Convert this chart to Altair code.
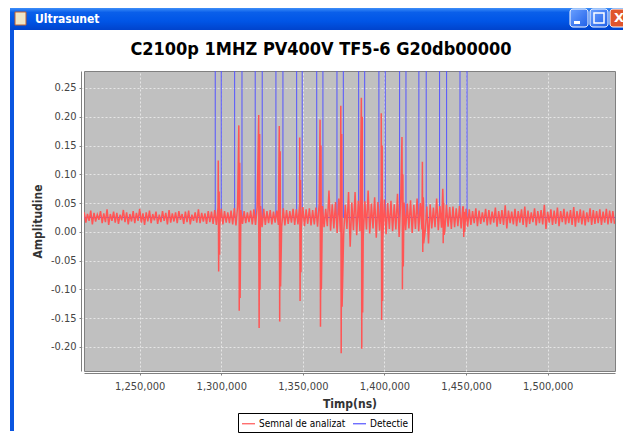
import altair as alt
import pandas as pd

# ---------------- data ----------------
T0 = 1216000          # first sample time (ns)
DT = 2000             # one upper + one lower envelope sample per DT

sig_hi = [
    0.034, 0.031, 0.037, 0.033, 0.030, 0.036, 0.032, 0.039, 0.031, 0.035,
    0.033, 0.030, 0.038, 0.034, 0.031, 0.036, 0.033, 0.040, 0.032, 0.034,
    0.037, 0.031, 0.035, 0.030, 0.036, 0.033, 0.038, 0.032, 0.034, 0.036,
    0.031, 0.035, 0.037, 0.030, 0.034, 0.039, 0.033, 0.032, 0.036,
    0.035, 0.038, 0.042, 0.040, 0.036, 0.034, 0.037, 0.041, 0.044, 0.038,
    0.036, 0.034, 0.037, 0.039, 0.043, 0.045, 0.040, 0.036, 0.038, 0.035,
    0.037, 0.044, 0.041, 0.038, 0.036, 0.040, 0.039, 0.046, 0.043, 0.039,
    0.041, 0.038, 0.042, 0.048, 0.045, 0.040,
    0.072, 0.048, 0.052, 0.058, 0.055, 0.047, 0.069, 0.051, 0.069, 0.054,
    0.060, 0.053, 0.072, 0.049, 0.060, 0.052, 0.063, 0.056, 0.050, 0.054,
    0.048, 0.066, 0.058, 0.051, 0.049, 0.055, 0.047, 0.058,
    0.050, 0.046, 0.044, 0.048, 0.042, 0.058, 0.045, 0.050, 0.047, 0.043,
    0.044, 0.041, 0.045, 0.043, 0.040,
    0.039, 0.036, 0.041, 0.037, 0.034, 0.040, 0.038, 0.035, 0.042, 0.036,
    0.038, 0.046, 0.037, 0.035, 0.040, 0.036, 0.039, 0.044, 0.037, 0.034,
    0.041, 0.036, 0.038, 0.047, 0.035, 0.039, 0.037, 0.042, 0.036, 0.040,
    0.035, 0.038, 0.043, 0.036, 0.039, 0.037, 0.034, 0.041, 0.038, 0.036,
    0.039, 0.035, 0.040, 0.037, 0.036,
]
sig_lo = [
    0.016, 0.019, 0.013, 0.018, 0.021, 0.015, 0.017, 0.012, 0.019, 0.016,
    0.014, 0.020, 0.017, 0.013, 0.018, 0.015, 0.019, 0.016, 0.012, 0.018,
    0.015, 0.020, 0.014, 0.017, 0.019, 0.013, 0.016, 0.018, 0.015, 0.021,
    0.014, 0.017, 0.013, 0.019, 0.016, 0.015, 0.018, 0.014, 0.017,
    0.014, 0.012, 0.010, 0.013, 0.016, 0.015, 0.013, 0.011, 0.009, 0.014,
    0.015, 0.017, 0.013, 0.012, 0.009, 0.008, 0.012, 0.015, 0.013, 0.016,
    0.012, 0.008, 0.011, 0.014, 0.016, 0.012, 0.013, 0.007, 0.010, 0.014,
    0.011, 0.013, 0.009, 0.004, 0.008, 0.010,
    0.002, 0.006, -0.002, 0.000, -0.004, 0.005, -0.026, 0.003, -0.006, 0.001,
    -0.008, 0.004, -0.003, 0.006, -0.010, 0.002, -0.012, -0.004, 0.005, 0.001,
    0.004, -0.009, 0.000, 0.003, 0.006, -0.002, 0.005, 0.001,
    0.004, 0.002, -0.020, 0.006, 0.008, 0.003, 0.007, 0.001, 0.009, 0.005,
    0.008, 0.010, 0.006, 0.004, 0.009,
    0.012, 0.015, 0.010, 0.014, 0.017, 0.011, 0.013, 0.016, 0.009, 0.014,
    0.012, 0.006, 0.015, 0.013, 0.010, 0.016, 0.012, 0.008, 0.014, 0.017,
    0.011, 0.015, 0.013, 0.005, 0.016, 0.012, 0.014, 0.010, 0.017, 0.013,
    0.015, 0.012, 0.009, 0.016, 0.013, 0.011, 0.017, 0.012, 0.014, 0.015,
    0.012, 0.016, 0.013, 0.015, 0.014,
]

# echo spikes
echo_t = [1298100, 1310700, 1322900, 1335500, 1348000, 1360500, 1373200,
          1385800, 1398000, 1410700, 1423200, 1435700, 1448300]
echo_hi = [0.124, 0.185, 0.203, 0.184, 0.164, 0.195, 0.219, 0.233, 0.206,
           0.165, 0.122, 0.075, 0.043]
echo_lo = [-0.069, -0.137, -0.167, -0.156, -0.120, -0.165, -0.211, -0.203,
           -0.153, -0.100, -0.035, -0.020, -0.009]
echo2_hi = [0.070, 0.120, 0.170, 0.140, 0.090, 0.150, 0.170, 0.200, 0.150,
            0.100, 0.060, 0.050, 0.035]
echo2_lo = [-0.040, -0.115, -0.100, -0.095, -0.070, -0.100, -0.130, -0.140,
            -0.120, -0.060, -0.020, -0.005, 0.000]

# detection windows (ns)
det_start = [1296300, 1308200, 1320800, 1333500, 1346200, 1358500, 1370900,
             1384200, 1396600, 1409300, 1421100, 1433800, 1446300]
det_end = [1300000, 1312700, 1325100, 1337800, 1349600, 1362300, 1374800,
           1387900, 1400500, 1413200, 1425600, 1438100, 1450600]
det_low = 0.025
det_high = 1.0

SERIES = ["Semnal de analizat", "Detectie"]
COLORS = ["#ff5555", "#5555ff"]
CHART_TITLE = "C2100p 1MHZ PV400V TF5-6 G20db00000"
WINDOW_TITLE = "Ultrasunet"

x_ticks = [1250000, 1300000, 1350000, 1400000, 1450000, 1500000]
y_ticks = [-0.20, -0.15, -0.10, -0.05, 0.0, 0.05, 0.10, 0.15, 0.20, 0.25]
X_DOMAIN = [1215870, 1541300]
Y_DOMAIN = [-0.2418, 0.2795]

# ---------------- tables ----------------
sig_rows = []
for k, (h, l) in enumerate(zip(sig_hi, sig_lo)):
    sig_rows.append((T0 + k * DT, 0, h))
    sig_rows.append((T0 + k * DT + DT // 2, 0, l))
for t, h1, l1, h2, l2 in zip(echo_t, echo_hi, echo_lo, echo2_hi, echo2_lo):
    sig_rows += [(t + 50, 1, h1), (t + 300, 2, l1), (t + 600, 3, h2), (t + 850, 4, l2)]
sig = pd.DataFrame(sig_rows, columns=["t", "sub", "v"]).sort_values(["t", "sub"], kind="stable")
sig["idx"] = range(len(sig))
sig["series"] = SERIES[0]

det_rows = [(1200000, det_low)]
for a, b in zip(det_start, det_end):
    det_rows += [(a, det_low), (a, det_high), (b, det_high), (b, det_low)]
det_rows.append((1560000, det_low))
det = pd.DataFrame(det_rows, columns=["t", "v"])
det["idx"] = range(len(det))
det["series"] = SERIES[1]

FONT = "DejaVu Sans Condensed"

legend = alt.Legend(
    title=None, orient="none", legendX=154, legendY=342, direction="horizontal",
    symbolType="stroke", symbolSize=169, symbolStrokeWidth=1.2,
    labelFont=FONT, labelFontSize=10, labelColor="#000000",
    strokeColor="#000000", fillColor="#ffffff", padding=3,
    columnPadding=4, labelOffset=3, cornerRadius=0,
)

x_enc = alt.X("t:Q", scale=alt.Scale(domain=X_DOMAIN, nice=False, zero=False),
              axis=alt.Axis(values=x_ticks, format=",d", title="Timp(ns)"))
y_enc = alt.Y("v:Q", scale=alt.Scale(domain=Y_DOMAIN, nice=False, zero=False),
              axis=alt.Axis(values=y_ticks, title="Amplitudine",
                            labelExpr="replace(format(datum.value, '.2f'), '\u2212', '-')"))
c_enc = alt.Color("series:N", scale=alt.Scale(domain=SERIES, range=COLORS), legend=legend)

det_layer = alt.Chart(det).mark_line(strokeWidth=1, clip=True).encode(
    x=x_enc, y=y_enc, color=c_enc, order="idx:Q")
sig_layer = alt.Chart(sig).mark_line(strokeWidth=1.5, clip=True).encode(
    x=x_enc, y=y_enc, color=c_enc, order="idx:Q")

# ---------------- window chrome and title (decoration) ----------------
one = alt.Chart(pd.DataFrame({"d": [0]}))
bar_grad = alt.LinearGradient(
    gradient="linear", x1=0, x2=0, y1=0, y2=1,
    stops=[alt.GradientStop(color="#3d8ef8", offset=0),
           alt.GradientStop(color="#0a5fea", offset=0.2),
           alt.GradientStop(color="#0055e6", offset=0.6),
           alt.GradientStop(color="#0043cc", offset=1)])
title_bar = one.mark_rect(fill=bar_grad).encode(
    x=alt.value(-74), x2=alt.value(539), y=alt.value(-63), y2=alt.value(-41))
left_border = one.mark_rect(fill="#0a55e0").encode(
    x=alt.value(-74), x2=alt.value(-70), y=alt.value(-41), y2=alt.value(360))
win_title = one.mark_text(align="left", baseline="alphabetic", font=FONT, fontSize=12,
                          fontWeight="bold", color="white").encode(
    x=alt.value(-49), y=alt.value(-48), text=alt.value(WINDOW_TITLE))
icon = one.mark_rect(fill="#f0e6c8", stroke="#c06030", strokeWidth=1).encode(
    x=alt.value(-69), x2=alt.value(-58), y=alt.value(-59), y2=alt.value(-46))
btn_grad = alt.LinearGradient(
    gradient="linear", x1=0, x2=1, y1=0, y2=1,
    stops=[alt.GradientStop(color="#6aa0ff", offset=0),
           alt.GradientStop(color="#2060e8", offset=1)])
btn_min = one.mark_rect(fill=btn_grad, stroke="white", strokeWidth=1, cornerRadius=3).encode(
    x=alt.value(486), x2=alt.value(504), y=alt.value(-62), y2=alt.value(-44))
btn_max = one.mark_rect(fill=btn_grad, stroke="white", strokeWidth=1, cornerRadius=3).encode(
    x=alt.value(506), x2=alt.value(524), y=alt.value(-62), y2=alt.value(-44))
btn_close = one.mark_rect(fill="#e0552c", stroke="white", strokeWidth=1, cornerRadius=3).encode(
    x=alt.value(526), x2=alt.value(544), y=alt.value(-62), y2=alt.value(-44))
glyph_min = one.mark_rect(fill="white").encode(
    x=alt.value(490), x2=alt.value(496), y=alt.value(-50), y2=alt.value(-47))
glyph_max = one.mark_rect(fill=None, stroke="white", strokeWidth=1.5).encode(
    x=alt.value(510), x2=alt.value(520), y=alt.value(-58), y2=alt.value(-48))
glyph_close = one.mark_text(font="DejaVu Sans", fontSize=13, fontWeight="bold", color="white",
                            align="center", baseline="middle").encode(
    x=alt.value(535), y=alt.value(-53), text=alt.value("X"))
chart_title = one.mark_text(font=FONT, fontSize=18, fontWeight="bold", color="#000000",
                            align="center", baseline="alphabetic").encode(
    x=alt.value(237), y=alt.value(-16), text=alt.value(CHART_TITLE))

chart = alt.layer(
    title_bar, left_border, win_title, icon, btn_min, btn_max, btn_close,
    glyph_min, glyph_max, glyph_close, chart_title,
    det_layer, sig_layer,
).properties(
    width=531, height=300,
    autosize=alt.AutoSizeParams(type="none"),
    padding={"left": 76, "top": 63, "right": 8, "bottom": 63},
).configure(
    background="#ffffff",
).configure_view(
    fill="#c0c0c0", stroke="#808080", strokeWidth=1,
).configure_axis(
    labelFont=FONT, labelFontSize=11, labelColor="#444444",
    titleFont=FONT, titleFontSize=12, titleFontWeight="bold", titleColor="#333333",
    domainColor="#808080", tickColor="#808080", tickSize=2,
    gridColor="#e6e6e6", gridDash=[2, 2], gridWidth=1,
).configure_axisX(
    offset=2, labelPadding=5, titlePadding=7,
).configure_axisY(
    offset=3, labelPadding=3, titlePadding=6,
)

chart.save("out.html", embed_options={"renderer": "svg", "actions": False})
